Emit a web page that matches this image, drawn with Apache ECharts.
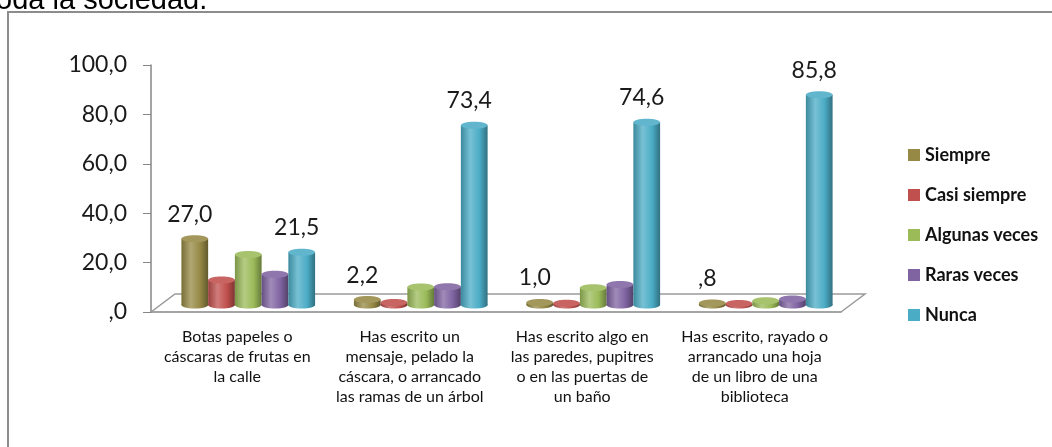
<!DOCTYPE html>
<html>
<head>
<meta charset="utf-8">
<title>Frecuencia de conductas</title>
<script src="https://cdn.jsdelivr.net/npm/echarts@6/dist/echarts.min.js"></script>
<style>
  html, body { margin: 0; padding: 0; background: #fff; }
  #chart { width: 1052px; height: 447px; }
</style>
</head>
<body>
<div id="chart"></div>
<script>
// datos
var categories = [
  'Botas papeles o\ncáscaras de frutas en\nla calle',
  'Has escrito un\nmensaje, pelado la\ncáscara, o arrancado\nlas ramas de un árbol',
  'Has escrito algo en\nlas paredes, pupitres\no en las puertas de\nun baño',
  'Has escrito, rayado o\narrancado una hoja\nde un libro de una\nbiblioteca'
]
var seriesNames = ['Siempre', 'Casi siempre', 'Algunas veces', 'Raras veces', 'Nunca']
var siempre = [27.0, 2.2, 1.0, 0.8]
var casiSiempre = [10.2, 1.0, 0.7, 0.6]
var algunasVeces = [20.6, 7.3, 7.0, 1.7]
var rarasVeces = [12.6, 7.5, 8.4, 2.4]
var nunca = [21.5, 73.4, 74.6, 85.8]
var yTicks = [0, 20, 40, 60, 80, 100]

var seriesValues = [siempre, casiSiempre, algunasVeces, rarasVeces, nunca]
var colors = ['#968945', '#C0504D', '#9BBB59', '#8064A2', '#4BACC6']
var showLabel = [true, false, false, false, true]
var FONT = 'Lato, "Open Sans", sans-serif'

// formato tipo SPSS: 0,8 -> ,8
function fmt (v) {
  var s = v.toFixed(1).replace('.', ',')
  return s.indexOf('0,') === 0 ? s.slice(1) : s
}

function shade (hex, amt) {
  var n = parseInt(hex.slice(1), 16)
  var rgb = [(n >> 16) & 255, (n >> 8) & 255, n & 255]
  var t = amt < 0 ? 0 : 255
  var p = Math.abs(amt)
  return 'rgb(' + rgb.map(function (c) { return Math.round(c + (t - c) * p) }).join(',') + ')'
}

function cylinder (k) {
  var base = colors[k]
  return function (params, api) {
    var i = api.value(0)
    var v = api.value(1)
    var band = api.size([1, 0])[0]
    var w = band * 0.155
    var c = api.coord([i, 0])
    var cx = c[0] + (k - 2) * w
    var yBase = c[1]
    var yTop = api.coord([i, v])[1]
    var rx = w / 2
    var ry = 3.5
    var grad = new echarts.graphic.LinearGradient(0, 0, 1, 0, [
      { offset: 0, color: shade(base, -0.2) },
      { offset: 0.35, color: shade(base, 0.25) },
      { offset: 0.7, color: base },
      { offset: 1, color: shade(base, -0.35) }
    ])
    var children = [
      { type: 'ellipse', shape: { cx: cx, cy: yBase, rx: rx, ry: ry }, style: { fill: grad } },
      { type: 'rect', shape: { x: cx - rx, y: yTop, width: w, height: yBase - yTop }, style: { fill: grad } },
      { type: 'ellipse', shape: { cx: cx, cy: yTop, rx: rx, ry: ry }, style: { fill: shade(base, 0.12) } }
    ]
    if (showLabel[k]) {
      children.push({
        type: 'text',
        style: {
          text: fmt(v), x: cx - 5, y: yTop - ry - 21,
          align: 'center', verticalAlign: 'middle',
          fontSize: 23, fontFamily: FONT, fill: '#1a1a1a'
        }
      })
    }
    return { type: 'group', children: children }
  }
}

function floor (params, api) {
  var band = api.size([1, 0])[0]
  var first = api.coord([0, 0])
  var last = api.coord([categories.length - 1, 0])
  var l = first[0] - band / 2
  var r = last[0] + band / 2
  var y = first[1]
  return {
    type: 'polyline',
    shape: { points: [[l, y], [l + 24, y - 18], [r + 24, y - 18], [r, y]] },
    style: { stroke: '#9a9a9a', lineWidth: 1.5, fill: null }
  }
}

var series = [{
  name: 'floor',
  type: 'custom',
  xAxisIndex: 0,
  yAxisIndex: 0,
  silent: true,
  renderItem: floor,
  data: [[0, 0]],
  z: 1
}]
seriesNames.forEach(function (name, k) {
  series.push({
    name: name,
    type: 'custom',
    xAxisIndex: 1,
    yAxisIndex: 1,
    itemStyle: { color: colors[k] },
    renderItem: cylinder(k),
    data: seriesValues[k].map(function (v, i) { return [i, v] }),
    z: 3
  })
})

var chart = echarts.init(document.getElementById('chart'))
chart.setOption({
  animation: false,
  backgroundColor: '#fff',
  graphic: [{
    type: 'rect',
    silent: true,
    shape: { x: 8, y: 12, width: 2000, height: 1000 },
    style: { fill: null, stroke: '#8c8c8c', lineWidth: 2 }
  }, {
    type: 'text',
    silent: true,
    x: -12,
    y: 15,
    style: { text: 'toda la sociedad.', fontSize: 29, fontFamily: '"Liberation Sans", Arial, sans-serif', fill: '#000', verticalAlign: 'bottom' }
  }],
  legend: {
    data: seriesNames,
    orient: 'vertical',
    left: 903,
    top: 141,
    icon: 'rect',
    itemWidth: 12,
    itemHeight: 12,
    itemGap: 22,
    textStyle: { fontSize: 18, fontWeight: 'bold', fontFamily: FONT, color: '#111', lineHeight: 18 }
  },
  grid: [
    { left: 151, right: 211, top: 65, bottom: 135 },
    { left: 162, right: 200, top: 60, bottom: 142 }
  ],
  xAxis: [{
    type: 'category',
    gridIndex: 0,
    data: categories,
    axisLine: { lineStyle: { color: '#868686', width: 1.5 } },
    axisTick: { length: 6, lineStyle: { color: '#868686' } },
    axisLabel: { interval: 0, margin: 15, fontSize: 16, lineHeight: 20, fontFamily: FONT, color: '#111' }
  }, {
    type: 'category',
    gridIndex: 1,
    data: categories,
    show: false
  }],
  yAxis: [{
    type: 'value',
    gridIndex: 0,
    min: yTicks[0],
    max: yTicks[yTicks.length - 1],
    interval: yTicks[1] - yTicks[0],
    axisLine: { show: true, lineStyle: { color: '#868686', width: 1.5 } },
    axisTick: { show: true, length: 8, lineStyle: { color: '#868686' } },
    splitLine: { show: false },
    axisLabel: { margin: 24, fontSize: 23, fontFamily: FONT, color: '#1a1a1a', formatter: fmt }
  }, {
    type: 'value',
    gridIndex: 1,
    min: yTicks[0],
    max: yTicks[yTicks.length - 1],
    show: false
  }],
  series: series
})
</script>
</body>
</html>
